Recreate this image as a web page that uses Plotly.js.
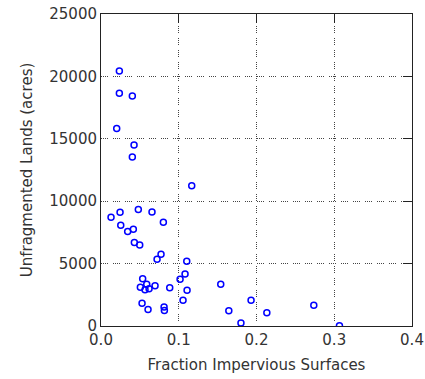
<!DOCTYPE html>
<html><head><meta charset="utf-8">
<script src="https://cdn.plot.ly/plotly-3.0.1.min.js"></script>
<style>body{margin:0;background:#fff}#c{width:425px;height:379px}</style>
</head><body><div id="c"></div>
<script>
const fractionImpervious = [0.0236,0.0236,0.0403,0.0202,0.0425,0.0403,0.1167,0.0129,0.0245,0.048,0.0656,0.0802,0.0254,0.0343,0.0416,0.0429,0.0498,0.0772,0.0721,0.1103,0.1081,0.1017,0.0536,0.0588,0.0695,0.0506,0.0566,0.0618,0.0884,0.1107,0.154,0.1055,0.0528,0.0605,0.0811,0.0815,0.1644,0.193,0.18,0.2133,0.2737,0.3067];
const unfragmentedAcres = [20434,18645,18428,15835,14495,13532,11229,8716,9117,9334,9142,8315,8074,7568,7753,6686,6493,5747,5345,5185,4166,3740,3796,3339,3234,3098,2913,2994,3074,2857,3339,2055,1814,1332,1517,1252,1228,2055,233,1067,1653,24];
const xTickVals = [0,0.1,0.2,0.3,0.4];
const yTickVals = [0,5000,10000,15000,20000,25000];

const font = {family:'"DejaVu Sans", "Liberation Sans", Arial, sans-serif', size:15, color:'#333'};
const gridDash = '1px,1px,1px,1px,1px,1px,1px,5px';
const data = [
  {x:fractionImpervious, y:unfragmentedAcres, type:'scatter', mode:'markers',
   marker:{symbol:'circle-open', size:6, color:'#0000ff', line:{width:1.5, color:'#0000ff'}},
   hoverinfo:'none', showlegend:false},
  {x:[0], y:[0], xaxis:'x2', yaxis:'y2', mode:'markers', marker:{opacity:0}, showlegend:false, hoverinfo:'none'}
];
const layout = {
  width:425, height:379, paper_bgcolor:'#fff', plot_bgcolor:'#fff',
  margin:{l:101, r:13, t:14, b:53}, font:font, showlegend:false,
  xaxis:{range:[0,0.4], tickvals:xTickVals, tickformat:'.1f', showline:true, mirror:true, linecolor:'#222', linewidth:1,
    showgrid:true, gridcolor:'#444', griddash:gridDash, gridwidth:1, zeroline:false, ticks:'', ticklen:0,
    title:{text:'Fraction Impervious Surfaces', font:font, standoff:11}, fixedrange:true},
  yaxis:{range:[0,25000], tickvals:yTickVals, tickformat:'d', showline:true, mirror:true, linecolor:'#222', linewidth:1,
    showgrid:true, gridcolor:'#444', griddash:gridDash, gridwidth:1, zeroline:false, ticks:'', ticklen:0,
    title:{text:'Unfragmented Lands (acres)', font:font, standoff:13}, fixedrange:true},
  xaxis2:{range:[0,0.4], tickvals:xTickVals, overlaying:'x', side:'top', anchor:'y2', ticks:'inside', ticklen:9, tickcolor:'#222',
    showticklabels:false, showgrid:false, zeroline:false, showline:false},
  yaxis2:{range:[0,25000], tickvals:yTickVals, overlaying:'y', side:'right', anchor:'x2', ticks:'inside', ticklen:9, tickcolor:'#222',
    showticklabels:false, showgrid:false, zeroline:false, showline:false}
};
Plotly.newPlot('c', data, layout, {staticPlot:true, displayModeBar:false});
</script></body></html>
